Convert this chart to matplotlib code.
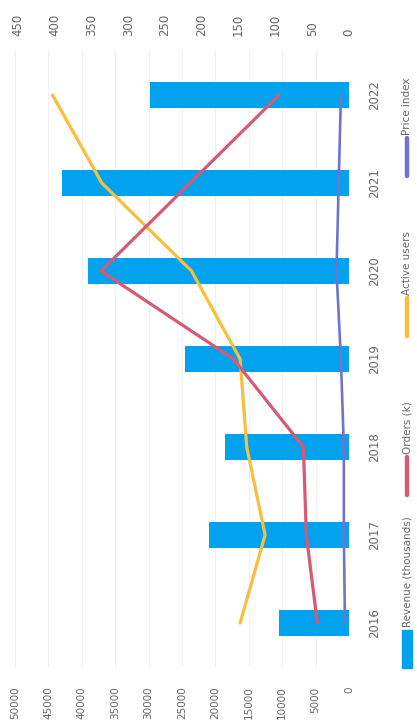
import matplotlib
matplotlib.use("Agg")
import matplotlib.pyplot as plt
import numpy as np

# data, bottom category first
years = ["2016", "2017", "2018", "2019", "2020", "2021", "2022"]
revenue = [10450, 20950, 18500, 24500, 39000, 42950, 29850]
orders = [43, 58, 62, 157, 337, 216, 95]
customers = [148, 114, 139, 148, 214, 336, 403]
price_idx = [5.5, 7, 7, 11, 17, 14, 11]

rev_ticks = list(range(0, 50001, 5000))
sec_ticks = list(range(0, 451, 50))

legend_labels = ["Revenue (thousands)", "Orders (k)", "Active users", "Price index"]

blue = "#03A2EE"
red = "#D65A74"
yellow = "#F8BE3C"
purple = "#7272CF"
txt = "#666666"

fig = plt.figure(figsize=(4.17, 7.26), dpi=100)
ax = fig.add_axes([15 / 417, 1 - 667 / 726, 334 / 417, 616 / 726])

y = np.arange(len(years))
ax.barh(y, revenue, height=0.30, color=blue, zorder=2)
ax.set_xlim(50000, 0)
ax.set_ylim(-0.5, len(years) - 0.5)
ax.set_xticks(rev_ticks)
ax.set_xticklabels([str(t) for t in rev_ticks], rotation=90, fontsize=7.5, color=txt)
ax.tick_params(axis="x", length=0, pad=14)
ax.grid(axis="x", color="#f0f0f0", linewidth=0.8, zorder=0)
ax.yaxis.tick_right()
ax.set_yticks(y)
ax.set_yticklabels(years, rotation=90, fontsize=8.5, color=txt, va="center")
ax.tick_params(axis="y", length=0, pad=14)
for s in ax.spines.values():
    s.set_visible(False)

ax2 = ax.twiny()
ax2.set_xlim(454, 0)
ax2.set_xticks(sec_ticks)
ax2.set_xticklabels([str(t) for t in sec_ticks], rotation=90, fontsize=8.5, color=txt)
ax2.tick_params(axis="x", length=0, pad=11)
for s in ax2.spines.values():
    s.set_visible(False)

kw = dict(solid_joinstyle="round", solid_capstyle="round", zorder=3)
ax2.plot(customers, y, color=yellow, linewidth=2.3, **kw)
ax2.plot(orders, y, color=red, linewidth=2.3, **kw)
ax2.plot(price_idx, y, color=purple, linewidth=1.9, **kw)

# legend drawn by hand, rotated like the rest of the chart
W, H = 417, 726
entries = [
    (legend_labels[3], purple, "line", 138),
    (legend_labels[2], yellow, "line", 298),
    (legend_labels[1], red, "line", 457),
    (legend_labels[0], blue, "bar", 630),
]
for label, col, kind, top in entries:
    x0 = 407 / W
    y_top = 1 - top / H
    y_bot = 1 - (top + 38) / H
    if kind == "line":
        fig.add_artist(plt.Line2D([x0, x0], [y_bot, y_top], color=col,
                                  linewidth=3.2, solid_capstyle="round",
                                  transform=fig.transFigure))
    else:
        fig.add_artist(plt.Rectangle((402 / W, y_bot), 10 / W, y_top - y_bot,
                                     color=col, transform=fig.transFigure))
    fig.text(x0, y_top + 3 / H, label, rotation=90, ha="center", va="bottom",
             fontsize=7.5, color=txt)

fig.savefig("out.png", dpi=100)
